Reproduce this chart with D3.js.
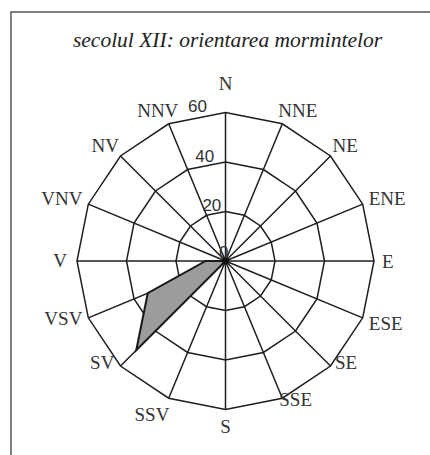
<!DOCTYPE html>
<html>
<head>
<meta charset="utf-8">
<script src="https://cdn.jsdelivr.net/npm/d3@7"></script>
<style>
  html, body { margin: 0; padding: 0; background: #fff; }
  svg { display: block; }
</style>
</head>
<body>
<svg id="chart" width="430" height="455"></svg>
<script>
// ---- data ----
const title = "secolul XII: orientarea mormintelor";
const directions = ["N","NNE","NE","ENE","E","ESE","SE","SSE","S","SSV","SV","VSV","V","VNV","NV","NNV"];
const counts = [0,0,0,0,0,0,0,0,0,0,51,34,8,0,0,0];
const tickValues = [0,20,40,60];

// ---- layout ----
const W = 430, H = 455;
const cx = 225.5, cy = 261, R = 148.5;
const labelGap = 8, labelH = 13;
// small hand nudges for individual direction labels (px)
const labelNudge = { N:[0,-15], NNE:[5,0], SE:[2,-14], SSE:[4,-12], S:[0,2], SSV:[-7,3], SV:[-4,-14], VSV:[0,-5], V:[-2,-1] };

const svg = d3.select("#chart");
svg.append("rect").attr("width", W).attr("height", H).attr("fill", "#fff");

// frame
svg.append("rect")
  .attr("x", 11).attr("y", 12).attr("width", W + 20).attr("height", H + 20)
  .attr("fill", "none").attr("stroke", "#555").attr("stroke-width", 1.5);

// title
svg.append("text")
  .attr("x", 227.5).attr("y", 47)
  .attr("text-anchor", "middle")
  .attr("font-family", "'Liberation Serif', 'DejaVu Serif', serif")
  .attr("font-style", "italic")
  .attr("font-size", 21.5)
  .attr("fill", "#222")
  .text(title);

const r = d3.scaleLinear().domain([0, d3.max(tickValues)]).range([0, R]);
const angle = d3.scaleLinear().domain([0, directions.length]).range([0, 2 * Math.PI]);

const g = svg.append("g").attr("transform", `translate(${cx},${cy})`);

const radialLine = d3.lineRadial()
  .angle((d, i) => angle(i))
  .radius(d => r(d))
  .curve(d3.curveLinearClosed);

// rings
g.selectAll("path.ring")
  .data(tickValues.filter(t => t > 0))
  .join("path")
  .attr("class", "ring")
  .attr("d", t => radialLine(directions.map(() => t)))
  .attr("fill", "none")
  .attr("stroke", "#1e1e1e")
  .attr("stroke-width", 1.5);

// spokes
g.selectAll("line.spoke")
  .data(directions)
  .join("line")
  .attr("class", "spoke")
  .attr("x1", 0).attr("y1", 0)
  .attr("x2", (d, i) => r(d3.max(tickValues)) * Math.sin(angle(i)))
  .attr("y2", (d, i) => -r(d3.max(tickValues)) * Math.cos(angle(i)))
  .attr("stroke", "#1e1e1e")
  .attr("stroke-width", 1.5);

// data polygon
g.append("path")
  .attr("d", radialLine(counts))
  .attr("fill", "#9c9c9c")
  .attr("stroke", "#1a1a1a")
  .attr("stroke-width", 2)
  .attr("stroke-linejoin", "miter");

// center dot (spokes converge)
g.append("circle").attr("r", 3.5).attr("fill", "#111");

// tick labels
g.selectAll("text.tick")
  .data(tickValues)
  .join("text")
  .attr("class", "tick")
  .attr("x", t => 3 - 0.145 * r(t))
  .attr("y", t => -r(t) - (t === 0 ? 3 : 0.5))
  .attr("text-anchor", "end")
  .attr("font-family", "'Liberation Sans', Arial, sans-serif")
  .attr("font-size", 17)
  .attr("fill", "#333")
  .text(t => t);

// direction labels
const labels = g.selectAll("text.dir")
  .data(directions)
  .join("text")
  .attr("class", "dir")
  .attr("text-anchor", "middle")
  .attr("dy", "0.35em")
  .attr("font-family", "'Liberation Serif', 'Times New Roman', serif")
  .attr("font-size", 19)
  .attr("fill", "#333")
  .text(d => d);

labels.each(function(d, i) {
  const w = this.getComputedTextLength();
  const a = angle(i);
  const s = Math.sin(a), c = Math.cos(a);
  const px = R * s, py = -R * c;
  const nud = labelNudge[d] || [0, 0];
  const x = px + s * (labelGap + w / 2) + nud[0];
  const y = py - c * (labelGap + labelH / 2) + nud[1];
  d3.select(this).attr("x", x).attr("y", y);
});
</script>
</body>
</html>
